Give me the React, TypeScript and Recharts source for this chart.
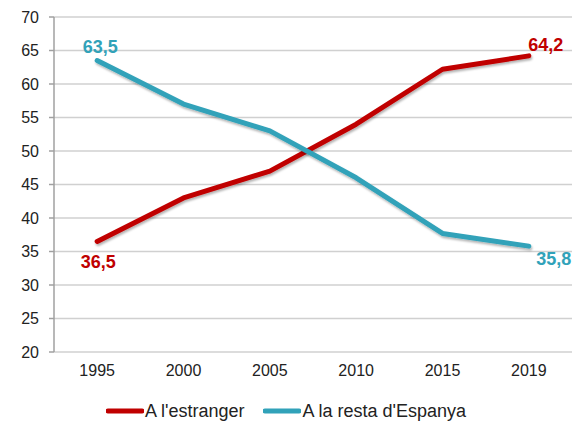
import React from "react";
import { LineChart, Line, XAxis, YAxis, CartesianGrid, Legend, LabelList } from "recharts";

const years = ["1995", "2000", "2005", "2010", "2015", "2019"];
const estranger = [36.5, 43, 47, 54, 62.2, 64.2];
const restaEspanya = [63.5, 57, 53, 46, 37.7, 35.8];
const yTicks = [20, 25, 30, 35, 40, 45, 50, 55, 60, 65, 70];
const boundaryTicks = [0, 1, 2, 3, 4, 5, 6];

const seriesNames = { a: "A l'estranger", b: "A la resta d'Espanya" };
const RED = "#c00000";
const BLUE = "#31a2b9";

const data = years.map((y, i) => ({ year: y, pos: i + 0.5, a: estranger[i], b: restaEspanya[i] }));

const fmt = (v: number) => v.toFixed(1).replace(".", ",");

const makeLabel = (color: string, first: [number, number], last: [number, number]) => (props: any) => {
  const { x, y, value, index } = props;
  const n = years.length;
  if (index !== 0 && index !== n - 1) return null;
  const off = index === 0 ? first : last;
  return (
    <text
      x={Number(x) + off[0]}
      y={Number(y) + off[1]}
      textAnchor="middle"
      dominantBaseline="central"
      fill={color}
      fontWeight="bold"
      fontSize={18}
      fontFamily="'Liberation Sans', Arial, sans-serif"
    >
      {fmt(Number(value))}
    </text>
  );
};

const LegendContent = (props: any) => {
  const payload = props.payload || [];
  return (
    <div
      style={{
        display: "flex",
        justifyContent: "center",
        alignItems: "center",
        height: 22,
        fontFamily: "'Liberation Sans', Arial, sans-serif",
        fontSize: 18,
        color: "#222",
        lineHeight: "22px",
      }}
    >
      {payload.map((p: any, i: number) => (
        <div key={i} style={{ display: "flex", alignItems: "center", marginRight: i === payload.length - 1 ? 0 : 19 }}>
          <svg width={38} height={8} style={{ marginRight: 1 }}>
            <line x1={2} y1={4} x2={36} y2={4} stroke={p.color} strokeWidth={5} strokeLinecap="round" />
          </svg>
          <span>{p.value}</span>
        </div>
      ))}
    </div>
  );
};

export default function App() {
  return (
    <div style={{ position: "absolute", left: 0, top: 0, width: 576, height: 424, background: "#fff" }}>
      <LineChart width={576} height={424} data={data} margin={{ top: 17, right: 4, left: 0, bottom: 2 }}>
        <defs>
          <filter id="shadow" x="-10%" y="-10%" width="120%" height="140%">
            <feDropShadow dx="1" dy="2" stdDeviation="1.2" floodColor="#000" floodOpacity="0.3" />
          </filter>
        </defs>
        <CartesianGrid horizontal vertical={false} stroke="#d0d0d0" strokeWidth={1.5} />
        <XAxis
          xAxisId="bnd"
          type="number"
          dataKey="pos"
          domain={[0, 6]}
          ticks={boundaryTicks}
          interval={0}
          height={0}
          tickSize={6}
          tickFormatter={() => ""}
          axisLine={{ stroke: "#a0a0a0", strokeWidth: 1.5 }}
          tickLine={{ stroke: "#a0a0a0", strokeWidth: 1.5 }}
        />
        <XAxis
          xAxisId="cat"
          dataKey="year"
          scale="band"
          height={48}
          axisLine={false}
          tickLine={false}
          tickSize={0}
          tickMargin={13}
          interval={0}
          tick={{ fill: "#222", fontSize: 16, fontFamily: "'Liberation Sans', Arial, sans-serif" }}
        />
        <YAxis
          width={54}
          domain={[20, 70]}
          ticks={yTicks}
          interval={0}
          tickSize={5}
          tickMargin={10}
          axisLine={{ stroke: "#a0a0a0", strokeWidth: 1.5 }}
          tickLine={{ stroke: "#a0a0a0", strokeWidth: 1.5 }}
          tick={{ fill: "#222", fontSize: 16, fontFamily: "'Liberation Sans', Arial, sans-serif" }}
        />
        <Legend verticalAlign="bottom" content={<LegendContent />} />
        <Line
          xAxisId="cat"
          dataKey="a"
          name={seriesNames.a}
          stroke={RED}
          strokeWidth={5}
          strokeLinecap="round"
          strokeLinejoin="round"
          dot={false}
          activeDot={false}
          filter="url(#shadow)"
          isAnimationActive={false}
        >
          <LabelList dataKey="a" content={makeLabel(RED, [1, 21], [17, -11])} />
        </Line>
        <Line
          xAxisId="cat"
          dataKey="b"
          name={seriesNames.b}
          stroke={BLUE}
          strokeWidth={5}
          strokeLinecap="round"
          strokeLinejoin="round"
          dot={false}
          activeDot={false}
          filter="url(#shadow)"
          isAnimationActive={false}
        >
          <LabelList dataKey="b" content={makeLabel(BLUE, [3, -14], [25, 13])} />
        </Line>
      </LineChart>
    </div>
  );
}
